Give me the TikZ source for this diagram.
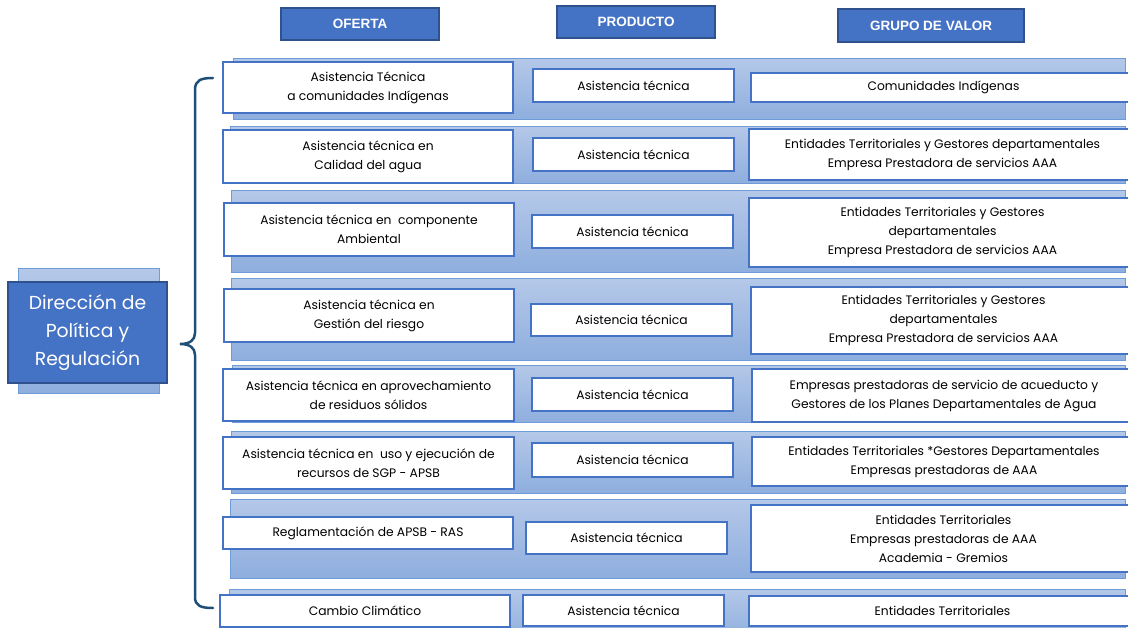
\documentclass[tikz,border=0pt]{standalone}
\usepackage{fontspec}
\setmainfont{Poppins}
\newfontfamily\hdrfont{Liberation Sans}
\definecolor{azul}{HTML}{4472C4}
\definecolor{azulosc}{HTML}{2F528F}
\definecolor{bandasup}{HTML}{B4C8E8}
\definecolor{bandainf}{HTML}{8EAEDE}
\definecolor{bordebanda}{HTML}{6F9BD8}
\definecolor{llavecol}{HTML}{1F4E79}
\tikzset{
  hdr/.style={draw=azulosc, fill=azul, line width=1.5pt, inner sep=0pt,
    text=white, font=\hdrfont\bfseries\fontsize{13.5}{16}\selectfont},
  banda/.style={draw=bordebanda, line width=1pt, top color=bandasup, bottom color=bandainf},
  caja/.style={draw=azul, fill=white, line width=1.6pt, inner sep=0pt, align=center,
    font=\fontsize{12.3}{19}\selectfont},
  direc/.style={draw=azulosc, fill=azul, line width=1.5pt, inner sep=0pt, align=center,
    text=white, font=\fontsize{18.8}{28}\selectfont},
  llave/.style={draw=llavecol, line width=2.5pt, line cap=round},
}
\begin{document}
\begin{tikzpicture}[x=1pt,y=-1pt]
\clip (0,0) rectangle (1128,628);
\fill[white] (0,0) rectangle (1128,628);
% encabezados
\node[hdr, minimum width=158pt, minimum height=32pt] (oferta) at (360,24) {OFERTA};
\node[hdr, minimum width=158pt, minimum height=32pt] (producto) at (636,22) {PRODUCTO};
\node[hdr, minimum width=186pt, minimum height=33pt] (grupo) at (931,25.5) {GRUPO DE VALOR};
% bandas
\shade[banda] (233,59) rectangle (1125,120);
\shade[banda] (230,127) rectangle (1125,184);
\shade[banda] (231,191) rectangle (1125,273);
\shade[banda] (231,279) rectangle (1125,361);
\shade[banda] (232,366) rectangle (1125,423);
\shade[banda] (231,432) rectangle (1125,493);
\shade[banda] (230,499) rectangle (1125,578);
\shade[banda] (229,589) rectangle (1125,640);
% fila 1
\node[caja, minimum width=290pt, minimum height=51pt] (o1) at (368,87.5) {Asistencia Técnica\\a comunidades Indígenas};
\node[caja, minimum width=201pt, minimum height=33pt] (p1) at (633.5,85.5) {Asistencia técnica};
\node[caja, minimum width=385pt, minimum height=29pt] (g1) at (943.5,87.5) {Comunidades Indígenas};
% fila 2
\node[caja, minimum width=290pt, minimum height=53pt] (o2) at (368,156.5) {Asistencia técnica en\\Calidad del agua};
\node[caja, minimum width=201pt, minimum height=33pt] (p2) at (633.5,154.5) {Asistencia técnica};
\node[caja, minimum width=387pt, minimum height=51pt] (g2) at (942.5,154.5) {Entidades Territoriales y Gestores departamentales\\Empresa Prestadora de servicios AAA};
% fila 3
\node[caja, minimum width=290pt, minimum height=53pt] (o3) at (369,229.5) {Asistencia técnica en\ \ componente\\Ambiental};
\node[caja, minimum width=201pt, minimum height=33pt] (p3) at (632.5,231.5) {Asistencia técnica};
\node[caja, minimum width=387pt, minimum height=69pt] (g3) at (942.5,232.5) {Entidades Territoriales y Gestores\\departamentales\\Empresa Prestadora de servicios AAA};
% fila 4
\node[caja, minimum width=290pt, minimum height=53pt] (o4) at (369,315.5) {Asistencia técnica en\\Gestión del riesgo};
\node[caja, minimum width=201pt, minimum height=32pt] (p4) at (631.5,320) {Asistencia técnica};
\node[caja, minimum width=385pt, minimum height=67pt] (g4) at (943.5,320.5) {Entidades Territoriales y Gestores\\departamentales\\Empresa Prestadora de servicios AAA};
% fila 5
\node[caja, minimum width=291pt, minimum height=52pt] (o5) at (368.5,395) {Asistencia técnica en aprovechamiento\\de residuos sólidos};
\node[caja, minimum width=201pt, minimum height=33pt] (p5) at (632.5,394.5) {Asistencia técnica};
\node[caja, minimum width=384pt, minimum height=53pt] (g5) at (944,395.5) {Empresas prestadoras de servicio de acueducto y\\Gestores de los Planes Departamentales de Agua};
% fila 6
\node[caja, minimum width=291pt, minimum height=52pt] (o6) at (368.5,463) {Asistencia técnica en\ \ uso y ejecución de\\recursos de SGP - APSB};
\node[caja, minimum width=201pt, minimum height=34pt] (p6) at (632.5,460) {Asistencia técnica};
\node[caja, minimum width=384pt, minimum height=49pt] (g6) at (944,461.5) {Entidades Territoriales *Gestores Departamentales\\Empresas prestadoras de AAA};
% fila 7
\node[caja, minimum width=290pt, minimum height=32pt] (o7) at (368,533) {Reglamentación de APSB - RAS};
\node[caja, minimum width=201pt, minimum height=32pt] (p7) at (626.5,538) {Asistencia técnica};
\node[caja, minimum width=385pt, minimum height=67pt] (g7) at (943.5,538.5) {Entidades Territoriales\\Empresas prestadoras de AAA\\Academia - Gremios};
% fila 8
\node[caja, minimum width=290pt, minimum height=32pt] (o8) at (365,611) {Cambio Climático};
\node[caja, minimum width=201pt, minimum height=31pt] (p8) at (623.5,610.5) {Asistencia técnica};
\node[caja, minimum width=387pt, minimum height=30pt] (g8) at (942.5,611) {Entidades Territoriales};
% direccion
\shade[banda] (18,269) rectangle (159,394);
\node[direc, minimum width=159pt, minimum height=101pt] (dir) at (87.5,332.5) {Dirección de\\Política y\\Regulación};
% llave
\draw[llave] (213,78) .. controls (201,78) and (195,80) .. (195,90) -- (195,333)
  .. controls (195,340) and (190,344) .. (180,344)
  .. controls (190,344) and (195,348) .. (195,355) -- (195,597)
  .. controls (195,606) and (201,608) .. (213,608);
\end{tikzpicture}
\end{document}
